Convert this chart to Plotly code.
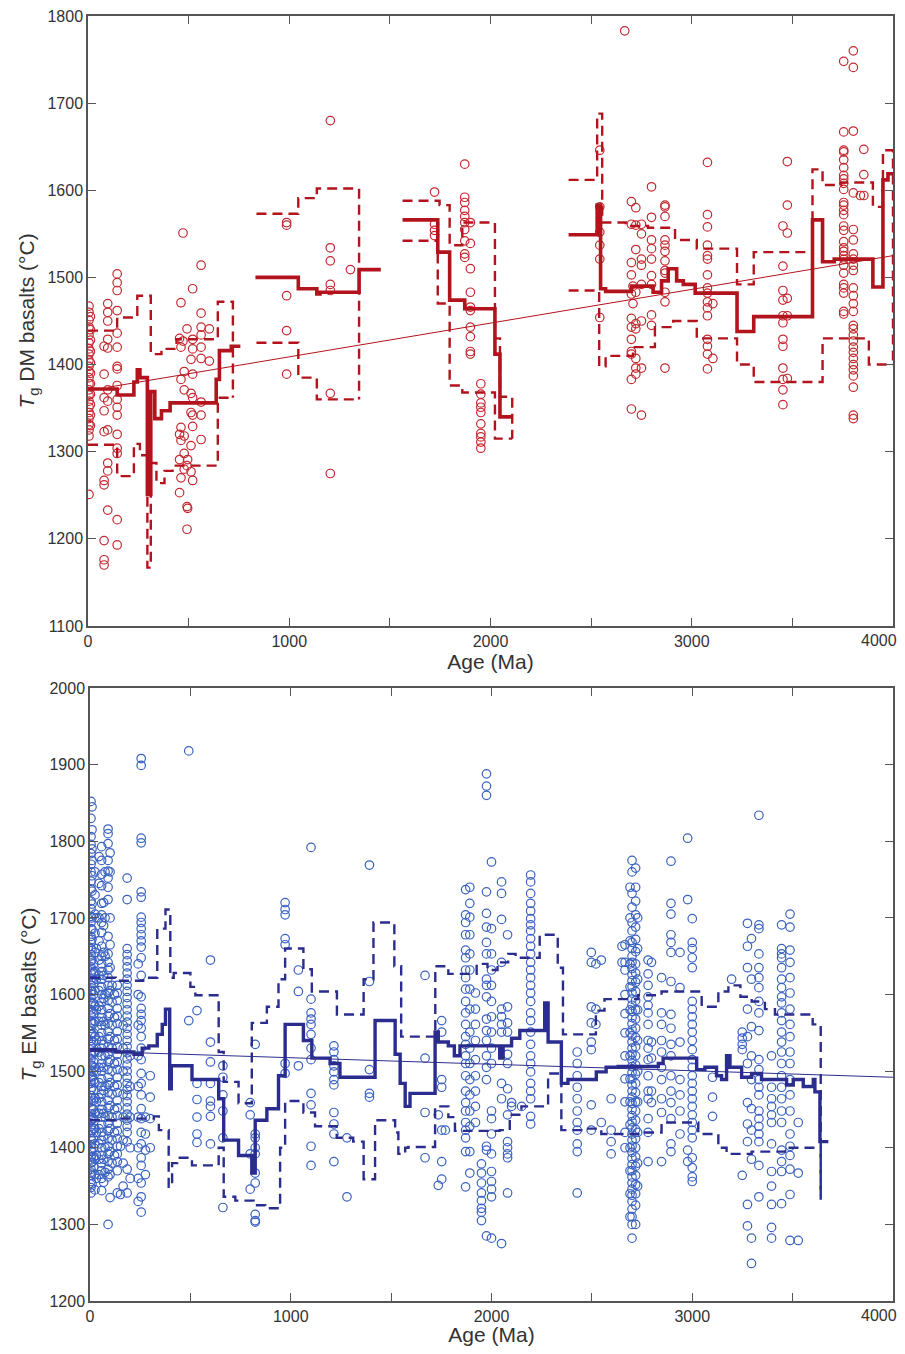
import plotly.graph_objects as go

# ---------------- DATA: DM basalts (top panel) ----------------
dm_ages = [5, 12, 80, 98, 145, 455, 462, 472, 478, 492, 495, 512, 520, 562, 603,
           987, 1204, 1304, 1722, 1872, 1900, 1952, 2543, 2667,
           2700, 2708, 2722, 2750, 2800, 2867, 3078, 3105, 3453, 3475,
           3755, 3803, 3838, 3855]
dm_temps = [
    [1467, 1460, 1451, 1443, 1434, 1425, 1418, 1412, 1405, 1398, 1392, 1385, 1378, 1371, 1365, 1358, 1351, 1345, 1338, 1331, 1325, 1318, 1251],
    [1455, 1440, 1428, 1415, 1402, 1390, 1378, 1366, 1354, 1342, 1330],
    [1421, 1389, 1362, 1347, 1323, 1267, 1262, 1198, 1176, 1170],
    [1470, 1460, 1450, 1429, 1419, 1371, 1358, 1325, 1287, 1278, 1233],
    [1504, 1494, 1485, 1462, 1436, 1420, 1398, 1395, 1376, 1360, 1351, 1342, 1320, 1304, 1298, 1222, 1193],
    [1430, 1291, 1320, 1253],
    [1471, 1420, 1383, 1328, 1313, 1270],
    [1551, 1427],
    [1392, 1371, 1318, 1298, 1280],
    [1441, 1284, 1237, 1211],
    [1291, 1235],
    [1406, 1367, 1345, 1307, 1277],
    [1487, 1429, 1418, 1389, 1362, 1342, 1329, 1267],
    [1514, 1459, 1443, 1434, 1420, 1407, 1357, 1342, 1314],
    [1441, 1404],
    [1563, 1560, 1479, 1439, 1389],
    [1680, 1534, 1519, 1492, 1485, 1367, 1275],
    [1509],
    [1598, 1561, 1554, 1548],
    [1630, 1592, 1586, 1577, 1570, 1563, 1555, 1542, 1527, 1523],
    [1563, 1539, 1510, 1483, 1466, 1462, 1443, 1432, 1415, 1412],
    [1378, 1366, 1356, 1351, 1345, 1332, 1321, 1317, 1311, 1304],
    [1646, 1581, 1552, 1537, 1521, 1454],
    [1783],
    [1587, 1561, 1517, 1503, 1481, 1453, 1443, 1429, 1415, 1412, 1383, 1349],
    [1490, 1470],
    [1580, 1560, 1532, 1483, 1447, 1441, 1407, 1396, 1389],
    [1561, 1550, 1521, 1514, 1492, 1450, 1396, 1342],
    [1604, 1569, 1543, 1533, 1521, 1502, 1492, 1457, 1445],
    [1583, 1581, 1570, 1543, 1537, 1530, 1519, 1508, 1505, 1483, 1472, 1396],
    [1632, 1572, 1558, 1537, 1525, 1521, 1503, 1488, 1482, 1472, 1465, 1456, 1429, 1421, 1412, 1395],
    [1470, 1407],
    [1559, 1513, 1485, 1474, 1456, 1448, 1429, 1421, 1396, 1383, 1371, 1354],
    [1633, 1583, 1551, 1476, 1456, 1384],
    [1748, 1667, 1646, 1644, 1635, 1626, 1617, 1613, 1608, 1601, 1586, 1583, 1577, 1572, 1559, 1554, 1541, 1534, 1530, 1525, 1521, 1514, 1505, 1492, 1488, 1482, 1461, 1458],
    [1760, 1741, 1668, 1597, 1555, 1543, 1527, 1521, 1514, 1508, 1488, 1479, 1470, 1461, 1445, 1441, 1434, 1427, 1420, 1414, 1407, 1400, 1394, 1387, 1374, 1342, 1338],
    [1594],
    [1647, 1618, 1594],
]

# DM step curves: (bin edges, levels)
dm_mid_edges = [
    [0, 145, 228, 245, 258, 295, 312, 332, 365, 408, 637, 653, 712, 757],
    [832, 1045, 1137, 1153, 1347, 1455],
    [1563, 1738, 1797, 1872, 2022, 2047, 2108],
    [2388, 2530, 2547, 2572, 2700, 2808, 2850, 2883, 2925, 2958, 3017, 3225, 3308, 3600, 3650, 3708, 3900, 3950, 3975, 4000],
]
dm_mid_levels = [
    [1372, 1365, 1380, 1394, 1385, 1251, 1369, 1338, 1347, 1356, 1383, 1416, 1421],
    [1500, 1487, 1481, 1483, 1509],
    [1566, 1529, 1474, 1464, 1412, 1340],
    [1549, 1583, 1487, 1484, 1490, 1483, 1496, 1510, 1496, 1492, 1482, 1438, 1455, 1566, 1518, 1521, 1489, 1612, 1619],
]
dm_up_edges = [
    [0, 145, 245, 312, 365, 440, 645, 720],
    [837, 1045, 1137, 1347],
    [1563, 1747, 1797, 1860, 2022, 2047, 2108],
    [2388, 2530, 2555, 2672, 2783, 2917, 3025, 3225, 3308, 3600, 3650, 3742, 3900, 3950, 4000],
]
dm_up_levels = [
    [1439, 1454, 1479, 1412, 1418, 1429, 1472],
    [1573, 1591, 1602],
    [1588, 1583, 1537, 1563, 1430, 1363],
    [1612, 1688, 1563, 1559, 1557, 1543, 1533, 1492, 1529, 1624, 1606, 1609, 1581, 1646],
]
dm_lo_edges = [
    [0, 145, 228, 258, 295, 312, 340, 380, 420, 645, 720],
    [837, 1045, 1137, 1347],
    [1563, 1738, 1797, 1860, 2022, 2108],
    [2388, 2540, 2572, 2708, 2817, 2908, 3025, 3225, 3308, 3650, 3880, 4000],
]
dm_lo_levels = [
    [1308, 1272, 1309, 1296, 1167, 1287, 1264, 1278, 1284, 1362],
    [1425, 1385, 1360],
    [1542, 1470, 1376, 1368, 1315],
    [1485, 1398, 1410, 1420, 1443, 1450, 1430, 1400, 1380, 1430, 1400],
]
dm_fit_x = [100, 4000]
dm_fit_y = [1374, 1525]

# ---------------- DATA: EM basalts (bottom panel) ----------------
em_ages = [5, 10, 18, 25, 32, 45, 58, 68, 75, 90, 100, 110, 122, 136, 152, 165, 185, 200, 240, 255, 276, 300,
           492, 533, 600, 662, 798, 823,
           972, 1038, 1101, 1215, 1280, 1392, 1669, 1735, 1752, 1770, 1871, 1892, 1920, 1950, 1975,
           2000, 2050, 2080, 2100, 2150, 2195, 2427, 2497, 2520, 2547, 2596, 2650, 2665, 2690, 2700, 2718,
           2728, 2780, 2797, 2847, 2894, 2939, 2977, 3000, 3101, 3196, 3249, 3275, 3295, 3332, 3395, 3445,
           3487, 3528]
em_temps = [
    [1852, 1830, 1806, 1796, 1784, 1770, 1760, 1748, 1738, 1722, 1712, 1702, 1694, 1686, 1676, 1668, 1660, 1652, 1644, 1636, 1628, 1620, 1612, 1604, 1596, 1588, 1580, 1572, 1564, 1556, 1548, 1540, 1532, 1524, 1516, 1508, 1500, 1492, 1484, 1476, 1468, 1460, 1452, 1444, 1436, 1428, 1420, 1412, 1404, 1396, 1388, 1380, 1372, 1364, 1356, 1348, 1341],
    [1845, 1815, 1790, 1775, 1755, 1735, 1718, 1700, 1685, 1672, 1658, 1645, 1632, 1618, 1604, 1590, 1577, 1563, 1549, 1535, 1521, 1507, 1493, 1479, 1465, 1451, 1437, 1423, 1409, 1395, 1381, 1367, 1353],
    [1640, 1628, 1615, 1600, 1588, 1575, 1562, 1550, 1538, 1525, 1512, 1500, 1488, 1475, 1462, 1450, 1438, 1425, 1412, 1400, 1388, 1375],
    [1760, 1730, 1705, 1680, 1655, 1630, 1605, 1585, 1565, 1545, 1525, 1505, 1485, 1465, 1445, 1425, 1405, 1385, 1365, 1345],
    [1700, 1660, 1620, 1580, 1540, 1500, 1460, 1420, 1390, 1360],
    [1780, 1745, 1700, 1670, 1645, 1625, 1605, 1585, 1565, 1545, 1525, 1505, 1485, 1465, 1445, 1425, 1405, 1385, 1365],
    [1793, 1775, 1757, 1742, 1719, 1704, 1694, 1681, 1663, 1650, 1640, 1630, 1620, 1610, 1600, 1590, 1580, 1570, 1560, 1550, 1540, 1530, 1520, 1510, 1500, 1490, 1480, 1470, 1460, 1450, 1440, 1430, 1420, 1410, 1400, 1390, 1380, 1370, 1360, 1344],
    [1720, 1690, 1655, 1625, 1595, 1565, 1535, 1505, 1475, 1445, 1415, 1385, 1355],
    [1760, 1700, 1650, 1600, 1560, 1520, 1480, 1440, 1400, 1368],
    [1816, 1810, 1797, 1775, 1761, 1752, 1740, 1724, 1676, 1653, 1642, 1632, 1622, 1612, 1602, 1592, 1582, 1572, 1562, 1552, 1542, 1532, 1522, 1512, 1502, 1492, 1482, 1472, 1462, 1452, 1442, 1432, 1422, 1412, 1402, 1392, 1382, 1372, 1362, 1300],
    [1785, 1760, 1700, 1665, 1635, 1605, 1575, 1545, 1515, 1485, 1455, 1425, 1395, 1365, 1335],
    [1612, 1590, 1560, 1530, 1500, 1470, 1440, 1410, 1380],
    [1600, 1570, 1540, 1510, 1480, 1450, 1420, 1390],
    [1612, 1602, 1592, 1582, 1572, 1562, 1552, 1542, 1532, 1522, 1512, 1502, 1492, 1482, 1472, 1462, 1452, 1442, 1432, 1422, 1412, 1402, 1392, 1382, 1370, 1341],
    [1339, 1402],
    [1560, 1530, 1500, 1470, 1440, 1410, 1380, 1350],
    [1752, 1724, 1660, 1652, 1644, 1636, 1628, 1620, 1612, 1604, 1596, 1588, 1580, 1572, 1564, 1556, 1548, 1540, 1532, 1524, 1516, 1508, 1500, 1492, 1484, 1476, 1468, 1460, 1452, 1444, 1436, 1428, 1420, 1408, 1372, 1341],
    [1520, 1480, 1440, 1400, 1360],
    [1640, 1600, 1560, 1520, 1480, 1440, 1400, 1360, 1330],
    [1908, 1899, 1804, 1798, 1734, 1727, 1701, 1694, 1686, 1678, 1670, 1662, 1648, 1625, 1597, 1582, 1574, 1566, 1556, 1545, 1530, 1515, 1497, 1484, 1469, 1451, 1438, 1420, 1405, 1387, 1377, 1354, 1336, 1316],
    [1397, 1418, 1440, 1365],
    [1494, 1466, 1438, 1400],
    [1918, 1566],
    [1579, 1484, 1463, 1440, 1418, 1407],
    [1645, 1538, 1512, 1484, 1461, 1454, 1441, 1405],
    [1507, 1492, 1469, 1448, 1413, 1322],
    [1459, 1443, 1392, 1346],
    [1535, 1418, 1413, 1400, 1392, 1367, 1354, 1313, 1305, 1303],
    [1720, 1711, 1704, 1673, 1665, 1510, 1497],
    [1632, 1604, 1507],
    [1792, 1594, 1576, 1568, 1561, 1548, 1530, 1515, 1471, 1456, 1402, 1377],
    [1533, 1525, 1515, 1507, 1499, 1489, 1482, 1446, 1431, 1418, 1382],
    [1413, 1336],
    [1769, 1617, 1502, 1471, 1466],
    [1625, 1517, 1446, 1387],
    [1443, 1351],
    [1566, 1551, 1489, 1479, 1423, 1382, 1359],
    [1423],
    [1737, 1704, 1694, 1678, 1658, 1648, 1632, 1622, 1607, 1591, 1576, 1561, 1545, 1535, 1520, 1510, 1494, 1474, 1459, 1448, 1433, 1423, 1413, 1395, 1349],
    [1740, 1719, 1701, 1678, 1653, 1632, 1607, 1581, 1551, 1530, 1510, 1489, 1469, 1448, 1428, 1395, 1367],
    [1602, 1581, 1561, 1540, 1515, 1494, 1474, 1454, 1433],
    [1379, 1367, 1354, 1341, 1331, 1321, 1316, 1305],
    [1888, 1872, 1860, 1734, 1706, 1688, 1668, 1653, 1620, 1612, 1597, 1568, 1553, 1540, 1520, 1505, 1489, 1402, 1397, 1285],
    [1773, 1686, 1653, 1632, 1612, 1591, 1571, 1551, 1530, 1510, 1448, 1438, 1418, 1392, 1369, 1356, 1346, 1336, 1282],
    [1747, 1732, 1698, 1642, 1581, 1571, 1561, 1551, 1484, 1464, 1275],
    [1678, 1584, 1563, 1551, 1522, 1510, 1477, 1443, 1408, 1400, 1392, 1387, 1341],
    [1459, 1454],
    [1454],
    [1756, 1747, 1732, 1719, 1709, 1699, 1691, 1683, 1673, 1663, 1653, 1642, 1632, 1622, 1612, 1602, 1591, 1576, 1566, 1551, 1535, 1520, 1510, 1499, 1484, 1474, 1464, 1441, 1431],
    [1525, 1510, 1494, 1479, 1464, 1448, 1433, 1423, 1405, 1395, 1341],
    [1655, 1642, 1584, 1563, 1538, 1528, 1456, 1423],
    [1640, 1581, 1561],
    [1645, 1433],
    [1464, 1423, 1408, 1392],
    [1663, 1642],
    [1665, 1642, 1632, 1600, 1575, 1550, 1520, 1490, 1460, 1420, 1400],
    [1740, 1700, 1670, 1640, 1610, 1580, 1550, 1520, 1490, 1460, 1430, 1400, 1370, 1340, 1310],
    [1775, 1760, 1732, 1714, 1694, 1683, 1668, 1660, 1650, 1642, 1634, 1626, 1618, 1610, 1602, 1594, 1586, 1578, 1570, 1562, 1554, 1546, 1538, 1530, 1522, 1514, 1506, 1498, 1490, 1482, 1474, 1466, 1458, 1450, 1442, 1434, 1426, 1418, 1410, 1402, 1394, 1386, 1378, 1370, 1362, 1354, 1346, 1338, 1330, 1320, 1310, 1300, 1282],
    [1765, 1740, 1722, 1704, 1688, 1672, 1656, 1640, 1628, 1616, 1604, 1592, 1580, 1568, 1556, 1544, 1532, 1520, 1508, 1496, 1484, 1472, 1460, 1448, 1436, 1424, 1412, 1400, 1388, 1376, 1364, 1352, 1340, 1325, 1300],
    [1700, 1660, 1620, 1580, 1540, 1500, 1460, 1420, 1380, 1350],
    [1645, 1627, 1612, 1597, 1586, 1576, 1561, 1540, 1530, 1515, 1494, 1474, 1464, 1438, 1420, 1382],
    [1642, 1538, 1517, 1474, 1459],
    [1622, 1576, 1561, 1540, 1525, 1505, 1489, 1464, 1446, 1382],
    [1774, 1719, 1705, 1678, 1668, 1655, 1617, 1574, 1556, 1535, 1520, 1494, 1474, 1459, 1438, 1405, 1395],
    [1655, 1609, 1538, 1489, 1469, 1448, 1418],
    [1804, 1724, 1397, 1382],
    [1699, 1668, 1660, 1648, 1635, 1591, 1581, 1571, 1561, 1551, 1540, 1528, 1515, 1505, 1494, 1484, 1474, 1464, 1454, 1443, 1433, 1423, 1413, 1387, 1374, 1362, 1356],
    [1492, 1466, 1441],
    [1620],
    [1551, 1543, 1535, 1528, 1364],
    [1693, 1663, 1635, 1581, 1545, 1510, 1459, 1431, 1408, 1326, 1298],
    [1673, 1620, 1558, 1520, 1489, 1451, 1423, 1385, 1282, 1249],
    [1834, 1691, 1686, 1653, 1635, 1622, 1609, 1591, 1576, 1553, 1515, 1502, 1489, 1479, 1469, 1448, 1438, 1428, 1418, 1408, 1377, 1336],
    [1520, 1479, 1464, 1454, 1443, 1433, 1405, 1369, 1350, 1326, 1296, 1282],
    [1691, 1660, 1653, 1648, 1635, 1620, 1609, 1597, 1589, 1576, 1566, 1551, 1538, 1525, 1510, 1494, 1479, 1464, 1448, 1433, 1397, 1382, 1369, 1327],
    [1705, 1688, 1658, 1642, 1622, 1602, 1581, 1561, 1545, 1525, 1510, 1489, 1469, 1448, 1418, 1402, 1390, 1372, 1339, 1279],
    [1433, 1367, 1279],
]

em_mid_edges = [0, 128, 219, 260, 293, 335, 360, 376, 397, 405, 508, 641, 666, 740, 806, 823, 881, 939, 972,
                1063, 1105, 1196, 1245, 1311, 1420, 1520, 1545, 1570, 1594, 1719, 1735, 1785, 1815, 1843,
                2041, 2058, 2100, 2141, 2265, 2282, 2348, 2381, 2522, 2571, 2631, 2831, 2855, 3022, 3063,
                3121, 3146, 3171, 3188, 3246, 3296, 3345, 3470, 3503, 3553, 3603, 3611, 3636, 3678]
em_mid_levels = [1528, 1525, 1522, 1530, 1533, 1548, 1561, 1581, 1477, 1507, 1489, 1464, 1410, 1390, 1367,
                 1436, 1451, 1494, 1561, 1540, 1517, 1510, 1492, 1492, 1566, 1522, 1484, 1454, 1471, 1551,
                 1538, 1533, 1520, 1533, 1517, 1533, 1543, 1553, 1589, 1538, 1484, 1489, 1499, 1505, 1506,
                 1510, 1517, 1502, 1505, 1494, 1489, 1520, 1505, 1492, 1497, 1489, 1482, 1489, 1480, 1489,
                 1473, 1408]
em_up_edges = [0, 128, 265, 335, 376, 400, 417, 500, 525, 641, 666, 740, 806, 881, 939, 972, 1063, 1105,
               1230, 1363, 1412, 1516, 1550, 1720, 1785, 1926, 1980, 2030, 2083, 2120, 2240, 2330, 2356,
               2520, 2563, 2731, 2847, 3047, 3130, 3180, 3240, 3296, 3362, 3412, 3600, 3640]
em_up_levels = [1622, 1618, 1622, 1686, 1711, 1622, 1628, 1610, 1599, 1525, 1486, 1458, 1563, 1584, 1620,
                1660, 1633, 1604, 1574, 1620, 1694, 1637, 1545, 1637, 1627, 1640, 1632, 1642, 1653, 1648,
                1678, 1635, 1548, 1579, 1594, 1599, 1604, 1584, 1604, 1612, 1597, 1591, 1581, 1574, 1561]
em_lo_edges = [0, 128, 318, 343, 392, 409, 434, 508, 641, 666, 724, 815, 873, 947, 972, 1063, 1121, 1229,
               1311, 1363, 1420, 1520, 1536, 1570, 1586, 1719, 1785, 1818, 2041, 2091, 2149, 2282, 2348,
               2447, 2547, 2739, 2847, 3030, 3130, 3171, 3296, 3462, 3640]
em_lo_levels = [1436, 1438, 1441, 1423, 1349, 1380, 1387, 1377, 1400, 1336, 1331, 1325, 1321, 1400, 1461,
                1446, 1428, 1413, 1408, 1359, 1436, 1420, 1392, 1400, 1401, 1454, 1440, 1422, 1423, 1443,
                1454, 1497, 1423, 1425, 1418, 1420, 1433, 1418, 1400, 1392, 1395, 1400]
em_fit_x = [0, 4000]
em_fit_y = [1526, 1492]

x_tickvals = [0, 1000, 2000, 3000]
x_ticktext = ["0", "1000", "2000", "3000"]
x_last_label = "4000"

# ---------------- STYLE ----------------
RED_PT = "#C42830"
RED_LN = "#B3131C"
BLUE_PT = "#3A62C0"
BLUE_LN = "#2B2D8E"
AX = "#555555"
TXT = "#333333"
FONT = "Liberation Sans, Arial, sans-serif"


def expand(ages, temps):
    xs, ys = [], []
    for a, col in zip(ages, temps):
        for t in col:
            xs.append(a)
            ys.append(t)
    return xs, ys


def step_xy(edges, levels, close=None):
    x = list(edges)
    y = list(levels) + [levels[-1]]
    if close is not None:
        x.append(edges[-1])
        y.append(close)
    return x, y


DASH = dict(width=2.4, dash="10px,6px")

fig = go.Figure()

# ---- top panel ----
x, y = expand(dm_ages, dm_temps)
fig.add_trace(go.Scatter(x=x, y=y, mode="markers", xaxis="x", yaxis="y",
                         marker=dict(symbol="circle-open", size=8.5, color=RED_PT, line=dict(width=1.2)),
                         showlegend=False, hoverinfo="skip"))
fig.add_trace(go.Scatter(x=dm_fit_x, y=dm_fit_y, mode="lines", xaxis="x", yaxis="y",
                         line=dict(color=RED_LN, width=1), showlegend=False))
for i in range(len(dm_up_edges)):
    ux, uy = step_xy(dm_up_edges[i], dm_up_levels[i], close=dm_lo_levels[i][-1])
    fig.add_trace(go.Scatter(x=ux, y=uy, mode="lines", line_shape="hv", xaxis="x", yaxis="y",
                             line=dict(color=RED_LN, **DASH), showlegend=False))
    lx, ly = step_xy(dm_lo_edges[i], dm_lo_levels[i])
    fig.add_trace(go.Scatter(x=lx, y=ly, mode="lines", line_shape="hv", xaxis="x", yaxis="y",
                             line=dict(color=RED_LN, **DASH), showlegend=False))
for i in range(len(dm_mid_edges)):
    mx, my = step_xy(dm_mid_edges[i], dm_mid_levels[i])
    fig.add_trace(go.Scatter(x=mx, y=my, mode="lines", line_shape="hv", xaxis="x", yaxis="y",
                             line=dict(color=RED_LN, width=3.6), showlegend=False))

# ---- bottom panel ----
x, y = expand(em_ages, em_temps)
fig.add_trace(go.Scatter(x=x, y=y, mode="markers", xaxis="x2", yaxis="y2",
                         marker=dict(symbol="circle-open", size=8.5, color=BLUE_PT, line=dict(width=1.2)),
                         showlegend=False, hoverinfo="skip"))
fig.add_trace(go.Scatter(x=em_fit_x, y=em_fit_y, mode="lines", xaxis="x2", yaxis="y2",
                         line=dict(color=BLUE_LN, width=1), showlegend=False))
ux, uy = step_xy(em_up_edges, em_up_levels, close=1332)
fig.add_trace(go.Scatter(x=ux, y=uy, mode="lines", line_shape="hv", xaxis="x2", yaxis="y2",
                         line=dict(color=BLUE_LN, **DASH), showlegend=False))
lx, ly = step_xy(em_lo_edges, em_lo_levels, close=1332)
fig.add_trace(go.Scatter(x=lx, y=ly, mode="lines", line_shape="hv", xaxis="x2", yaxis="y2",
                         line=dict(color=BLUE_LN, **DASH), showlegend=False))
mx, my = step_xy(em_mid_edges, em_mid_levels)
fig.add_trace(go.Scatter(x=mx, y=my, mode="lines", line_shape="hv", xaxis="x2", yaxis="y2",
                         line=dict(color=BLUE_LN, width=3.4), showlegend=False))

common_x = dict(range=[0, 4000], tickvals=x_tickvals, ticktext=x_ticktext, ticks="inside", ticklen=8,
                tickwidth=1.2, tickcolor=AX, showline=True, linecolor=AX, linewidth=1.5, mirror="ticks",
                minor=dict(dtick=500, tick0=0, ticks="inside", ticklen=8, tickwidth=1.2, tickcolor=AX,
                           showgrid=False),
                showgrid=False, zeroline=False, automargin=False, ticklabeloverflow="allow",
                tickfont=dict(size=16, color=TXT, family=FONT),
                title=dict(text="Age (Ma)", font=dict(size=21, color=TXT, family=FONT), standoff=4))
common_y = dict(dtick=100, ticks="inside", ticklen=8, tickwidth=1.2, tickcolor=AX, showline=True,
                linecolor=AX, linewidth=1.5, mirror="ticks", showgrid=False, zeroline=False,
                automargin=False, ticklabeloverflow="allow",
                tickfont=dict(size=16, color=TXT, family=FONT))

# the page body adds an 8px margin around the figure
fig.update_layout(
    width=897, height=1338,
    margin=dict(l=80, r=12, t=8, b=45),
    paper_bgcolor="white", plot_bgcolor="white",
    font=dict(family=FONT, color=TXT),
    xaxis=dict(common_x, domain=[0, 1], anchor="y"),
    yaxis=dict(common_y, range=[1100, 1800], domain=[0.5253, 1.0], anchor="x",
               title=dict(text="<i>T</i><sub>g</sub> DM basalts (°C)",
                          font=dict(size=21, color=TXT, family=FONT), standoff=7)),
    xaxis2=dict(common_x, domain=[2 / 805, 1], anchor="y2"),
    yaxis2=dict(common_y, range=[1200, 2000], domain=[0, 0.477], anchor="x2",
                title=dict(text="<i>T</i><sub>g</sub> EM basalts (°C)",
                           font=dict(size=21, color=TXT, family=FONT), standoff=7)),
    annotations=[
        dict(text=x_last_label, xref="x", yref="paper", x=4000, y=0.5253, xanchor="right", yanchor="top",
             xshift=6, yshift=-4, showarrow=False, font=dict(size=16, color=TXT, family=FONT)),
        dict(text=x_last_label, xref="x2", yref="paper", x=4000, y=0.0, xanchor="right", yanchor="top",
             xshift=6, yshift=-4, showarrow=False, font=dict(size=16, color=TXT, family=FONT)),
    ],
)

fig.write_html("out.html")
